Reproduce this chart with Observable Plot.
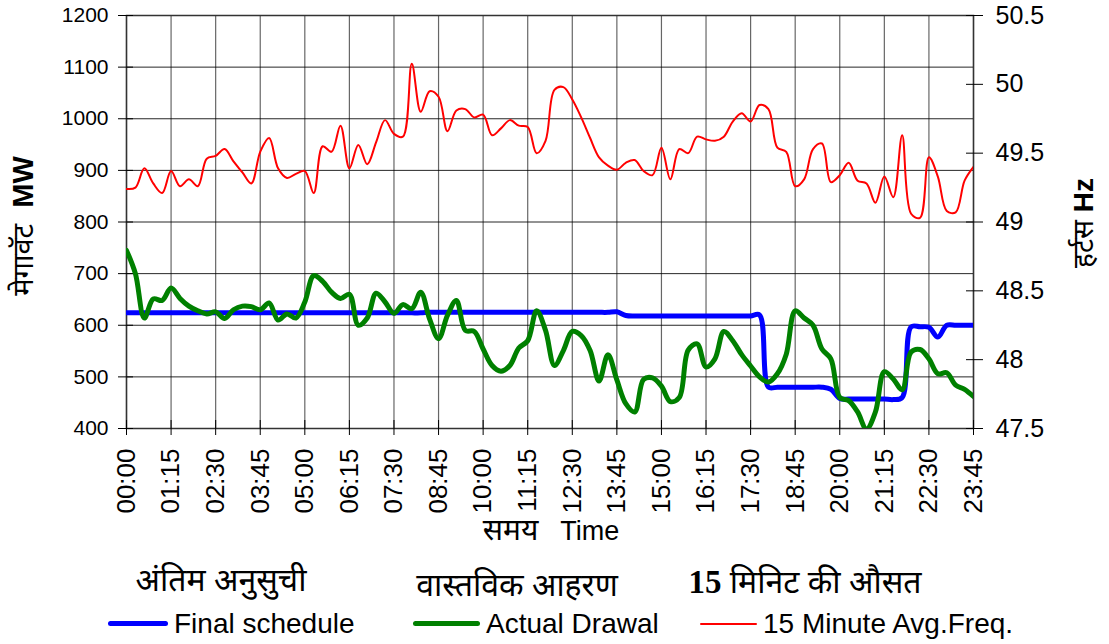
<!DOCTYPE html>
<html>
<head>
<meta charset="utf-8">
<script src="https://cdn.jsdelivr.net/npm/d3@7"></script>
<script src="https://cdn.jsdelivr.net/npm/@observablehq/plot@0.6"></script>
<style>
  html, body { margin: 0; padding: 0; background: #fff; }
  #wrap { position: relative; width: 1109px; height: 644px; overflow: hidden; font-family: "Liberation Sans", Arial, sans-serif; color: #000; }
  #chart { position: absolute; left: 0; top: 0; }
  .abs { position: absolute; white-space: nowrap; line-height: 1; }
  .deva { font-family: "Noto Sans Devanagari", "Lohit Devanagari", "Mangal", "FreeSans", "Noto Sans", sans-serif; }
  .rot { transform: translate(-50%, -50%) rotate(-90deg); }
  .ctr { transform: translate(-50%, -50%); }
  .sw { display: inline-block; vertical-align: middle; }
</style>
</head>
<body>
<div id="wrap">
  <div id="chart"></div>
  <div class="abs rot" style="left:25px; top:226px; font-size:29px;"><span class="deva">मेगावॅट</span>&nbsp; <b>MW</b></div>
  <div class="abs rot" style="left:1085px; top:223px; font-size:28px;"><span class="deva">हर्टस</span> <b>Hz</b></div>
  <div class="abs ctr" style="left:551px; top:533px;"><span class="deva" style="font-size:30px;">समय</span><span style="font-size:27px; margin-left:22px;">Time</span></div>
  <div class="abs ctr deva" style="left:221px; top:583px; font-size:32px;" id="h1"></div>
  <div class="abs ctr deva" style="left:517px; top:588px; font-size:32px;" id="h2"></div>
  <div class="abs ctr deva" style="left:805px; top:583px; font-size:32px;" id="h3"></div>
  <div class="abs" style="left:108px; top:608px; font-size:28px;" id="l1"></div>
  <div class="abs" style="left:413px; top:608px; font-size:28px;" id="l2"></div>
  <div class="abs" style="left:700px; top:608px; font-size:28px;" id="l3"></div>
</div>
<script>
// Tick labels on the time axis (every 75 minutes)
const timeTicks = ["00:00","01:15","02:30","03:45","05:00","06:15","07:30","08:45","10:00","11:15",
                   "12:30","13:45","15:00","16:15","17:30","18:45","20:00","21:15","22:30","23:45"];
// Left axis (MW) ticks
const mwTicks = [400, 500, 600, 700, 800, 900, 1000, 1100, 1200];
// Right axis (Hz) ticks
const hzTicks = [47.5, 48, 48.5, 49, 49.5, 50, 50.5];
const hzLabels = ["47.5","48","48.5","49","49.5","50","50.5"];

// Series: 96 fifteen-minute blocks
const finalSchedule = [
  624,624,624,624,624,624,624,624,624,624,
  624,624,624,624,624,624,624,624,624,624,
  624,624,624,624,624,624,624,624,624,624,
  624,624,624,624,625,625,625,625,625,625,
  625,625,625,625,625,625,625,625,625,625,
  625,625,625,625,625,626,619,618,618,618,
  618,618,618,618,618,618,618,618,618,618,
  618,620,480,480,480,480,480,480,480,476,
  458,457,457,457,457,457,456,460,597,597,
  596,577,600,600,600,600];
const actualDrawal = [
  745,700,614,651,648,672,652,637,628,622,
  626,613,630,637,636,630,643,610,622,614,
  645,696,685,664,652,660,600,614,662,645,
  623,640,632,664,612,574,619,648,590,588,
  554,522,511,522,556,570,628,590,522,551,
  588,580,551,492,543,494,448,432,495,498,
  482,452,460,552,564,519,535,588,570,543,
  521,500,490,506,544,628,614,600,554,535,
  460,454,432,399,432,510,496,475,548,553,
  535,506,508,484,476,462];
const freq15 = [
  49.24,49.25,49.39,49.28,49.21,49.37,49.26,49.31,49.26,49.46,
  49.48,49.53,49.44,49.36,49.28,49.51,49.61,49.39,49.32,49.35,
  49.37,49.21,49.55,49.51,49.70,49.39,49.56,49.42,49.58,49.74,
  49.64,49.62,50.15,49.80,49.95,49.91,49.66,49.81,49.82,49.76,
  49.78,49.63,49.68,49.74,49.70,49.69,49.50,49.59,49.96,49.98,
  49.89,49.76,49.61,49.47,49.41,49.38,49.43,49.45,49.37,49.34,
  49.54,49.31,49.53,49.50,49.62,49.60,49.59,49.62,49.73,49.79,
  49.73,49.85,49.82,49.54,49.51,49.26,49.31,49.53,49.57,49.29,
  49.34,49.43,49.30,49.28,49.14,49.33,49.18,49.63,49.06,49.03,
  49.47,49.33,49.08,49.07,49.30,49.40];

// Map Hz onto the MW scale (47.5..50.5 Hz <-> 400..1200 MW)
const hzToMW = f => 400 + (f - 47.5) * 800 / 3;

const rows = finalSchedule.map((v, i) => ({i, schedule: v, drawal: actualDrawal[i], freq: hzToMW(freq15[i])}));
const tickIdx = timeTicks.map((_, k) => k * 5);
const hzMW = hzTicks.map(hzToMW);

const chart = Plot.plot({
  width: 1109,
  height: 520,
  marginLeft: 126,
  marginRight: 136,
  marginTop: 15,
  marginBottom: 92,
  style: {fontFamily: "'Liberation Sans', Arial, sans-serif", color: "#000", background: "transparent", overflow: "visible"},
  x: {domain: [0, 95]},
  y: {domain: [400, 1200]},
  marks: [
    Plot.gridY(mwTicks, {stroke: "#000", strokeOpacity: 0.85, strokeWidth: 1}),
    Plot.gridX(tickIdx, {stroke: "#000", strokeOpacity: 0.6, strokeWidth: 1.2}),
    Plot.frame({stroke: "#333", strokeWidth: 1.5}),
    Plot.axisY(mwTicks, {anchor: "left", tickSize: 15, dx: 7, tickPadding: 10, fontSize: 21, label: null, tickFormat: d => String(d)}),
    Plot.axisY(hzMW, {anchor: "right", tickSize: 17, dx: -8, tickPadding: 13, fontSize: 25, label: null,
      tickFormat: d => hzLabels[hzMW.indexOf(d)]}),
    Plot.axisX(tickIdx, {anchor: "bottom", tickSize: 15, dy: -8, tickPadding: 13, tickRotate: -90, fontSize: 26, label: null,
      tickFormat: d => timeTicks[d / 5]}),
    Plot.lineY(rows, {x: "i", y: "schedule", stroke: "#0000ff", strokeWidth: 5, curve: "catmull-rom", clip: true}),
    Plot.lineY(rows, {x: "i", y: "drawal", stroke: "#008000", strokeWidth: 5, curve: "catmull-rom", clip: true}),
    Plot.lineY(rows, {x: "i", y: "freq", stroke: "#ff0000", strokeWidth: 2, curve: "catmull-rom", clip: true})
  ]
});
document.getElementById("chart").appendChild(chart);

// Legend
const legendHindi = ["अंतिम अनुसुची", "वास्तविक आहरण", "मिनिट की औसत"];
const legendEnglish = ["Final schedule", "Actual Drawal", "15 Minute Avg.Freq."];
const legendColors = ["#0000ff", "#008000", "#ff0000"];
const legendWidths = [5, 5, 2];
const legendSwatchLen = [60, 67, 57];
document.getElementById("h1").textContent = legendHindi[0];
document.getElementById("h2").textContent = legendHindi[1];
document.getElementById("h3").innerHTML = '<b style="font-family:\'Liberation Serif\',serif;font-size:33px;">15</b> ' + legendHindi[2];
["l1","l2","l3"].forEach((id, k) => {
  document.getElementById(id).innerHTML =
    `<span class="sw" style="width:${legendSwatchLen[k]}px;height:${legendWidths[k]}px;background:${legendColors[k]};border-radius:3px;margin-right:6px;"></span><span style="vertical-align:middle;">${legendEnglish[k]}</span>`;
});
</script>
</body>
</html>
